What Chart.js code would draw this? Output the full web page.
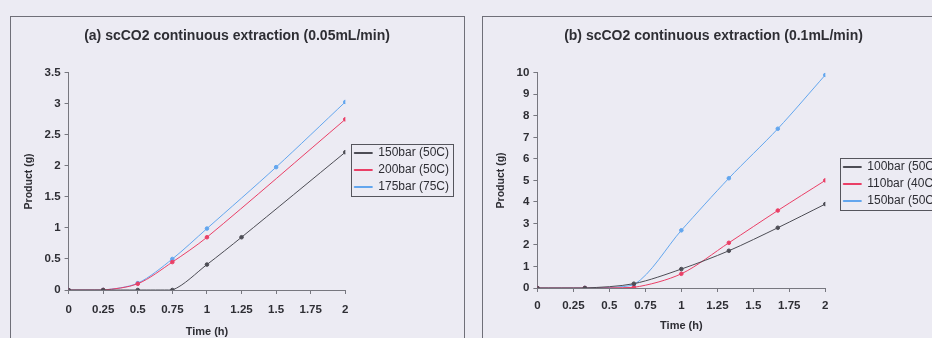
<!DOCTYPE html>
<html>
<head>
<meta charset="utf-8">
<script src="https://cdn.jsdelivr.net/npm/chart.js@4.4.1/dist/chart.umd.min.js"></script>
<style>
  body { margin: 0; background: #ecebf3; width: 932px; height: 338px; overflow: hidden; position: relative; }
  .panel { position: absolute; border: 1px solid #6f6f78; border-bottom: none; }
  #pa { left: 10px; top: 16px; width: 453px; height: 330px; }
  #pb { left: 482px; top: 16px; width: 470px; height: 330px; }
  canvas { filter: blur(0.3px); }
</style>
</head>
<body>
<div class="panel" id="pa"><canvas id="chartA" width="453" height="322"></canvas></div>
<div class="panel" id="pb"><canvas id="chartB" width="470" height="322"></canvas></div>
<script>
// (a) 0.05 mL/min
const a150Time = [0, 0.25, 0.5, 0.75, 1, 1.25, 2];
const a150Prod = [0, 0, 0, 0, 0.41, 0.85, 2.22];
const a200Time = [0, 0.25, 0.5, 0.75, 1, 2];
const a200Prod = [0, 0, 0.1, 0.45, 0.85, 2.75];
const a175Time = [0, 0.25, 0.5, 0.75, 1, 1.5, 2];
const a175Prod = [0, 0, 0.11, 0.5, 0.99, 1.98, 3.03];

// (b) 0.1 mL/min
const bTime = [0, 0.33, 0.67, 1, 1.33, 1.67, 2];
const b100Prod = [0, 0, 0.2, 0.88, 1.73, 2.8, 3.9];
const b110Prod = [0, 0, 0.03, 0.66, 2.1, 3.6, 5.0];
const b150Prod = [0, 0, 0.15, 2.68, 5.1, 7.4, 9.9];

const seriesA = ['150bar (50C)', '200bar (50C)', '175bar (75C)'];
const seriesB = ['100bar (50C)', '110bar (40C)', '150bar (50C)'];
const colors = ['#4d4d55', '#ea3f66', '#63a6ee'];

const font = "'Liberation Sans', Arial, sans-serif";
const textCol = '#2e2e34';

function pts(xs, ys) { return xs.map((x, i) => ({ x: x, y: ys[i] })); }

function ds(label, data, color) {
    return {
        label: label, data: data, borderColor: color, backgroundColor: color,
        borderWidth: 1, pointRadius: 1.8, pointHoverRadius: 1.8,
        showLine: true, tension: 0.3, fill: false
    };
}

const fmt = v => String(+v.toFixed(2));

// nudges title/legend a bit and draws the thin Excel-like frame round the legend
const legendFrame = {
    id: 'legendFrame',
    afterLayout(chart, args, opts) {
        const l = chart.legend;
        if (l && opts.shift) { l.top += opts.shift; l.bottom += opts.shift; }
        const t = chart.titleBlock;
        if (t && opts.titleShift) { t.left += opts.titleShift; t.right += opts.titleShift; }
    },
    afterDraw(chart) {
        const hb = chart.legend && chart.legend.legendHitBoxes;
        if (!hb || !hb.length) return;
        const left = Math.min(...hb.map(b => b.left)) - 3;
        const top = Math.min(...hb.map(b => b.top)) - 3;
        const right = Math.max(...hb.map(b => b.left + b.width)) + 4;
        const bottom = Math.max(...hb.map(b => b.top + b.height)) + 3;
        const ctx = chart.ctx;
        ctx.save();
        ctx.strokeStyle = '#55555c';
        ctx.lineWidth = 1;
        ctx.strokeRect(Math.round(left) + 0.5, Math.round(top) + 0.5, Math.round(right - left), Math.round(bottom - top));
        ctx.restore();
    }
};

function options(title, yMax, yStep, c) {
    return {
        responsive: false,
        animation: false,
        layout: { padding: { left: 12, right: 5, top: 0, bottom: c.padBottom } },
        plugins: {
            title: {
                display: true, text: title, color: textCol,
                font: { family: font, size: 14, weight: 'bold' },
                padding: { top: 11, bottom: 28 }
            },
            legend: {
                position: 'right', maxWidth: 160,
                labels: {
                    color: textCol, boxWidth: 18, boxHeight: 1, padding: 5,
                    font: { family: font, size: 12 }
                }
            },
            legendFrame: { shift: c.legendShift, titleShift: c.titleShift },
            tooltip: { enabled: false }
        },
        scales: {
            x: {
                type: 'linear', min: 0, max: 2,
                ticks: { stepSize: 0.25, color: textCol, padding: c.tickPad, maxRotation: 0, autoSkip: false, callback: fmt,
                         font: { family: font, size: 11.5, weight: 'bold' } },
                grid: { drawOnChartArea: false, tickLength: 4, color: '#77777f' },
                border: { color: '#77777f' },
                title: { display: true, text: 'Time (h)', color: textCol, padding: { top: c.titlePad, bottom: 0 },
                         font: { family: font, size: 11, weight: 'bold' } }
            },
            y: {
                min: 0, max: yMax,
                ticks: { stepSize: yStep, color: textCol, padding: 4, callback: fmt,
                         font: { family: font, size: 11.5, weight: 'bold' } },
                grid: { drawOnChartArea: false, tickLength: 4, color: '#77777f' },
                border: { color: '#77777f' },
                title: { display: true, text: 'Product (g)', color: textCol, padding: { top: 0, bottom: 5 },
                         font: { family: font, size: 10.5, weight: 'bold' } }
            },
            // empty axis that only keeps a gap between the plot and the legend
            gap: {
                position: 'right', display: true,
                ticks: { display: false }, grid: { display: false }, border: { display: false },
                afterFit(scale) { scale.width = c.gap; }
            }
        }
    };
}

new Chart(document.getElementById('chartA'), {
    type: 'scatter',
    data: {
        datasets: [
            ds(seriesA[0], pts(a150Time, a150Prod), colors[0]),
            ds(seriesA[1], pts(a200Time, a200Prod), colors[1]),
            ds(seriesA[2], pts(a175Time, a175Prod), colors[2])
        ]
    },
    options: options('(a) scCO2 continuous extraction (0.05mL/min)', 3.5, 0.5,
        { gap: 4, padBottom: 0, tickPad: 9, titlePad: 0, legendShift: -8, titleShift: -4 }),
    plugins: [legendFrame]
});

new Chart(document.getElementById('chartB'), {
    type: 'scatter',
    data: {
        datasets: [
            ds(seriesB[0], pts(bTime, b100Prod), colors[0]),
            ds(seriesB[1], pts(bTime, b110Prod), colors[1]),
            ds(seriesB[2], pts(bTime, b150Prod), colors[2])
        ]
    },
    options: options('(b) scCO2 continuous extraction (0.1mL/min)', 10, 1,
        { gap: 13, padBottom: 6, tickPad: 7, titlePad: 0, legendShift: 9, titleShift: -8 }),
    plugins: [legendFrame]
});
</script>
</body>
</html>
